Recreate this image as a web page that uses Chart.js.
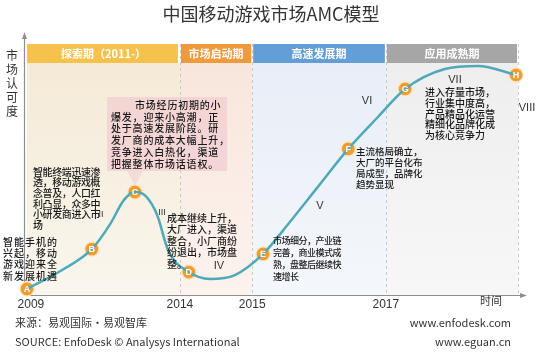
<!DOCTYPE html>
<html><head><meta charset="utf-8">
<script src="https://cdn.jsdelivr.net/npm/chart.js@4"></script>
<style>html,body{margin:0;padding:0;background:#fff}canvas{display:block}</style>
</head><body>
<canvas id="c" width="550" height="361"></canvas>
<script>
// ---- data ----
const curveX = [0.4, 7.5, 13.5, 17.2, 20.0, 22.2, 24.4, 26.7, 28.9, 33.1, 37.4, 42.4, 48.1, 53.5, 59.0, 65.3, 71.3, 76.8, 84.8, 91.5, 99.2];
const curveY = [2.4, 9.8, 18.0, 27.8, 37.3, 40.4, 38.8, 31.4, 17.6, 9.0, 6.3, 7.8, 16.1, 28.6, 42.0, 57.3, 69.8, 80.8, 88.6, 89.8, 86.3];
const markerIndex = [0, 2, 5, 9, 12, 15, 17, 20];
const markerLetters = ['A', 'B', 'C', 'D', 'E', 'F', 'G', 'H'];
const phaseNames = ['探索期（2011-）', '市场启动期', '高速发展期', '应用成熟期'];
const phaseBounds = [0.4, 31.3, 45.9, 72.9, 99.6];
const yearLabels = ['2009', '2014', '2015', '2017'];
const yearPos = [1.2, 31.3, 45.9, 72.9];
const stageLabels = ['II', 'III', 'IV', 'V', 'VI', 'VII', 'VIII'];

// ---- layout / style (not data) ----
const CJK = '"Noto Sans CJK SC", "Noto Sans", sans-serif';
const LAT = '"Liberation Sans", Arial, sans-serif';
const headColors = ['#F6C24C', '#F09A3E', '#639ED6', '#A6A6A6'];
const panelTop = ['#F4EAD6', '#F8E6DC', '#E8EEF7', '#EEEEEE'];
const panelBot = ['#FAF6EE', '#FCF3EE', '#F4F7FB', '#F7F7F7'];
const stagePos = [[101,215,9],[162,213,9],[219,266,11],[320,206,11],[367,101,11],[455,80,11],[527,108,11]];
const notes = [
  {lines:['智能手机的','兴起，移动','游戏迎来全','新发展机遇'], x:3, y:242, lh:11.3, pitch:11, size:10},
  {lines:['智能终端迅速渗','透，移动游戏概','念普及，人口红','利凸显，众多中','小研发商进入市','场'], x:33, y:172, lh:10.6, pitch:9.6, size:10},
  {lines:['市场经历初期的小','爆发，迎来小高潮，正','处于高速发展阶段。研','发厂商的成本大幅上升，','竞争进入白热化，渠道','把握整体市场话语权。'], x:111, y:105, lh:11.8, pitch:10.8, size:10, indent:24},
  {lines:['成本继续上升，','大厂进入，渠道','整合，小厂商纷','纷退出，市场盘','整。'], x:167, y:218, lh:11.5, pitch:10, size:10},
  {lines:['市场细分，产业链','完善，商业模式成','熟，盘整后继续快','速增长'], x:273, y:241, lh:11.7, pitch:8.5, size:9},
  {lines:['主流格局确立，','大厂的平台化布','局成型，品牌化','趋势显现'], x:356, y:151, lh:11, pitch:9.5, size:9.5},
  {lines:['进入存量市场，','行业集中度高，','产品精品化运营','精细化品牌化成','为核心竞争力'], x:425, y:92, lh:10.9, pitch:10, size:10}
];

function drawChars(ctx, s, x, y, pitch){
  let i = 0;
  for (const ch of s){ ctx.fillText(ch, x + i*pitch, y); i++; }
}

const deco = {
  id: 'deco',
  beforeDatasetsDraw(chart){
    const {ctx, scales:{x}} = chart;
    const headTop = 44, headBot = 63, base = 295;
    ctx.save();
    for (let i = 0; i < 4; i++){
      const l = x.getPixelForValue(phaseBounds[i]), r = x.getPixelForValue(phaseBounds[i+1]);
      const g = ctx.createLinearGradient(0, headBot, 0, base);
      g.addColorStop(0, panelTop[i]); g.addColorStop(1, panelBot[i]);
      ctx.fillStyle = g;
      ctx.fillRect(l, headBot, r - l, base - headBot);
    }
    ctx.fillStyle = 'rgba(242,205,208,0.75)';
    ctx.fillRect(107, 97, 120, 74);
    ctx.beginPath(); ctx.moveTo(127,171); ctx.lineTo(143,171); ctx.lineTo(135,186); ctx.closePath();
    ctx.fillStyle = 'rgba(242,208,212,0.6)'; ctx.fill();
    for (let i = 0; i < 4; i++){
      const l = x.getPixelForValue(phaseBounds[i]), r = x.getPixelForValue(phaseBounds[i+1]);
      ctx.fillStyle = headColors[i];
      ctx.fillRect(l + (i ? 1 : 0), headTop, r - l - 2, headBot - headTop);
      ctx.fillStyle = '#fff';
      ctx.font = 'bold 11px ' + CJK;
      ctx.textAlign = 'center'; ctx.textBaseline = 'middle';
      ctx.fillText(phaseNames[i], (l + r)/2, (headTop + headBot)/2 + 0.5);
    }
    ctx.strokeStyle = '#C9C9C9'; ctx.lineWidth = 1; ctx.setLineDash([3,3]);
    for (let i = 1; i < 5; i++){
      const px = Math.round(x.getPixelForValue(phaseBounds[i])) + 0.5;
      ctx.beginPath(); ctx.moveTo(px, headTop); ctx.lineTo(px, base); ctx.stroke();
    }
    ctx.setLineDash([]);
    ctx.strokeStyle = '#8E8E8E'; ctx.fillStyle = '#8E8E8E'; ctx.lineWidth = 1.2;
    ctx.beginPath(); ctx.moveTo(24.5, 296); ctx.lineTo(24.5, 37); ctx.stroke();
    ctx.beginPath(); ctx.moveTo(24.5, 32); ctx.lineTo(22, 39); ctx.lineTo(27, 39); ctx.closePath(); ctx.fill();
    ctx.beginPath(); ctx.moveTo(24, 295.5); ctx.lineTo(521, 295.5); ctx.stroke();
    ctx.beginPath(); ctx.moveTo(527, 295.5); ctx.lineTo(520, 293); ctx.lineTo(520, 298); ctx.closePath(); ctx.fill();
    ctx.restore();
  },
  afterDatasetsDraw(chart){
    const {ctx, scales:{x}} = chart;
    ctx.save();
    const meta = chart.getDatasetMeta(1);
    ctx.fillStyle = '#fff'; ctx.font = 'bold 9px ' + LAT;
    ctx.textAlign = 'center'; ctx.textBaseline = 'middle';
    meta.data.forEach((p, i) => ctx.fillText(markerLetters[i], p.x, p.y + 0.5));
    ctx.fillStyle = '#333';
    stagePos.forEach((s, i) => { ctx.font = s[2] + 'px ' + LAT; ctx.fillText(stageLabels[i], s[0], s[1]); });
    ctx.fillStyle = '#1a1a1a'; ctx.textAlign = 'left'; ctx.textBaseline = 'middle';
    notes.forEach(n => {
      ctx.font = '500 ' + n.size + 'px ' + CJK;
      n.lines.forEach((ln, j) => drawChars(ctx, ln, n.x + (j === 0 && n.indent ? n.indent : 0), n.y + j*n.lh, n.pitch));
    });
    ctx.fillStyle = '#333'; ctx.font = '12px ' + LAT; ctx.textAlign = 'center';
    yearLabels.forEach((t, i) => ctx.fillText(t, x.getPixelForValue(yearPos[i]), 305));
    ctx.font = '11px ' + CJK; ctx.fillText('时间', 491, 301);
    ctx.font = '12px ' + CJK;
    [...'市场认可度'].forEach((ch, i) => ctx.fillText(ch, 12, 55 + i*14));
    ctx.fillStyle = '#333'; ctx.font = '18px ' + CJK;
    ctx.fillText('中国移动游戏市场AMC模型', 271, 14);
    ctx.font = '11px ' + CJK; ctx.textAlign = 'left';
    ctx.fillText('来源：易观国际·易观智库', 15, 323);
    ctx.fillText('SOURCE: EnfoDesk © Analysys International', 15, 342);
    ctx.textAlign = 'right';
    ctx.fillText('www.enfodesk.com', 511, 323);
    ctx.fillText('www.eguan.cn', 511, 342);
    ctx.restore();
  }
};

new Chart(document.getElementById('c'), {
  type: 'scatter',
  data: {
    datasets: [
      { type: 'line', data: curveX.map((v, i) => ({x: v, y: curveY[i]})),
        borderColor: '#4FA9B8', borderWidth: 2.5, pointRadius: 0, fill: false,
        cubicInterpolationMode: 'monotone', clip: false },
      { data: markerIndex.map(i => ({x: curveX[i], y: curveY[i]})),
        pointRadius: 7, pointBackgroundColor: '#F39C2E', pointBorderColor: '#FCE3C0', pointBorderWidth: 1.2,
        pointHoverRadius: 7, clip: false }
    ]
  },
  options: {
    responsive: false, animation: false, devicePixelRatio: 1,
    layout: { padding: { left: 25, right: 30, top: 40, bottom: 66 } },
    scales: {
      x: { type: 'linear', min: 0, max: 100, display: false },
      y: { type: 'linear', min: 0, max: 100, display: false }
    },
    plugins: { legend: { display: false }, tooltip: { enabled: false }, title: { display: false } }
  },
  plugins: [deco]
});
</script>
</body></html>
